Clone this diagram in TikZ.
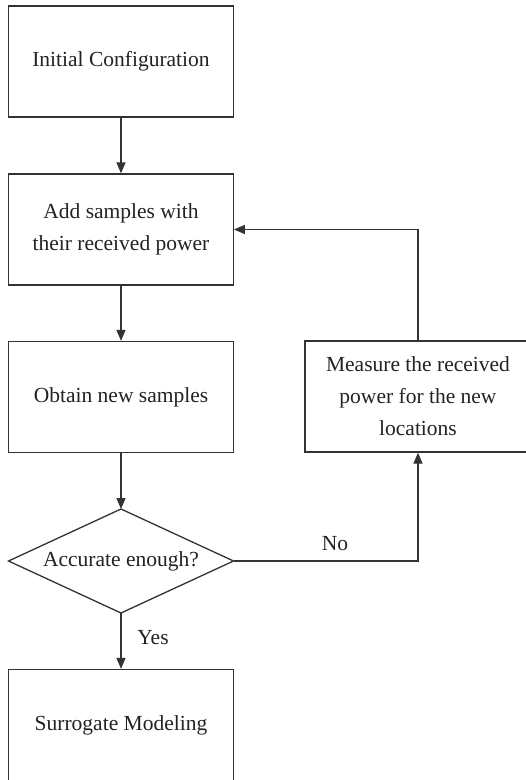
\documentclass[tikz,border=0pt]{standalone}
\usepackage{fontspec}
\setmainfont{Liberation Serif}
\usetikzlibrary{arrows.meta}
\definecolor{linec}{HTML}{333333}
\definecolor{textc}{HTML}{222222}
\tikzset{
  boxnode/.style={draw=linec, line width=1.3pt, rectangle, minimum width=224.5pt, minimum height=111pt, inner sep=0pt, align=center, text=textc, font=\fontsize{21.5}{32}\selectfont},
  dectext/.style={inner sep=0pt, text=textc, font=\fontsize{21.5}{32}\selectfont},
  decline/.style={draw=linec, line width=1.3pt, line join=miter},
  flow/.style={draw=linec, line width=1.3pt, -{Triangle[length=11pt,width=9pt]}},
  lbl/.style={text=textc, font=\fontsize{21.5}{24}\selectfont, inner sep=0pt}
}
\begin{document}
\begin{tikzpicture}[x=1pt,y=-1pt]
\useasboundingbox (0,0) rectangle (526,780);
\clip (0,0) rectangle (526,780);
\node[boxnode] (b1) at (121,61.5) {Initial Configuration};
\node[boxnode] (b2) at (121,229.5) {Add samples with\\their received power};
\node[boxnode] (b3) at (121,397) {Obtain new samples};
\node[dectext] (d) at (121,561) {Accurate enough?};
\coordinate (dN) at (121,509);
\coordinate (dS) at (121,613);
\coordinate (dW) at (8.5,561);
\coordinate (dE) at (233.5,561);
\draw[decline] (dN) -- (dE) -- (dS) -- (dW) -- cycle;
\node[boxnode] (b5) at (121,725) {Surrogate Modeling};
\node[boxnode, minimum width=226pt] (r) at (418,396.5) {Measure the received\\power for the new\\locations};
\coordinate (c1) at (418,561);
\coordinate (c2) at (418,229.5);
\draw[flow] (b1.south) -- (b2.north);
\draw[flow] (b2.south) -- (b3.north);
\draw[flow] (b3.south) -- (dN);
\draw[flow] (dS) -- (b5.north);
\draw[flow] (dE) -- (c1) -- (r.south);
\draw[flow] (r.north) -- (c2) -- (b2.east);
\node[lbl] (yes) at (153,638) {Yes};
\node[lbl] (no) at (335,544) {No};
\end{tikzpicture}
\end{document}
